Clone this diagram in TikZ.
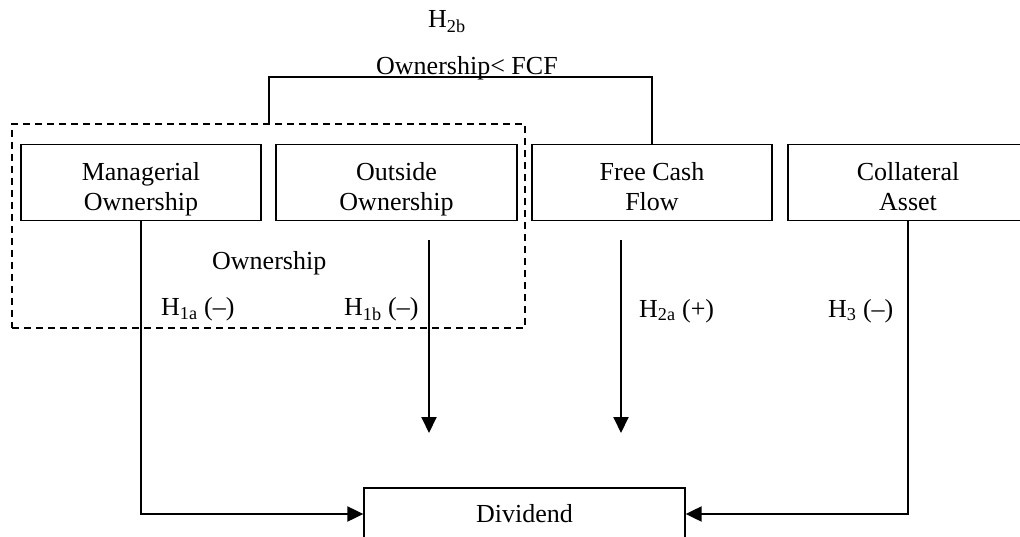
\documentclass[tikz,border=0pt]{standalone}
\usepackage{fontspec}
\setmainfont{Liberation Serif}
\usetikzlibrary{arrows.meta}
\begin{document}
\begin{tikzpicture}[x=1pt,y=-1pt,
  every node/.style={font=\fontsize{26}{30}\selectfont},
  box/.style={draw,line width=1.8pt,minimum height=76pt,inner sep=0pt},
  boxtxt/.style={align=center,yshift=-7.5pt,inner sep=0pt,font=\fontsize{26}{30}\selectfont},
  lbl/.style={anchor=base west,inner sep=0pt},
  conn/.style={line width=2pt},
  arr/.style={line width=2pt,-{Triangle[length=16pt,width=15pt]}}]
\useasboundingbox (0,0) rectangle (1020,537);
% ownership group (dashed)
\node[draw,dashed,line width=1.5pt,dash pattern=on 7pt off 5pt,minimum width=513pt,minimum height=204pt,inner sep=0pt] (own) at (268.5,226) {};
% boxes
\node[box,minimum width=240pt,label={[boxtxt]center:Managerial\strut\\Ownership\strut}] (mo) at (141,182.5) {};
\node[box,minimum width=241pt,label={[boxtxt]center:Outside\strut\\Ownership\strut}] (oo) at (396.5,182.5) {};
\node[box,minimum width=240pt,label={[boxtxt]center:Free Cash\strut\\Flow\strut}] (fcf) at (652,182.5) {};
\node[box,minimum width=240pt,label={[boxtxt]center:Collateral\strut\\Asset\strut}] (ca) at (908,182.5) {};
\node[draw,line width=1.3pt,minimum width=321pt,minimum height=52pt,inner sep=0pt] (div) at (524.5,514) {Dividend};
% labels
\node[lbl] (h2b) at (428,28) {H\textsubscript{2b}};
\node[lbl] (ofcf) at (376,75) {Ownership\textless{} FCF};
\node[lbl] (ownl) at (212,270) {Ownership};
\node[lbl] (h1a) at (161,316) {H\textsubscript{1a} (--)};
\node[lbl] (h1b) at (344,316) {H\textsubscript{1b} (--)};
\node[lbl] (h2a) at (639,317) {H\textsubscript{2a} (+)};
\node[lbl] (h3) at (828,317) {H\textsubscript{3} (--)};
% coordinates
\coordinate (top) at (460,77);
\coordinate (oa1) at (429,240);
\coordinate (oa2) at (429,433);
\coordinate (fa1) at (621,240);
\coordinate (fa2) at (621,433);
% connectors
\draw[conn] (own.north) -- (own.north |- top) -- (fcf.north |- top) -- (fcf.north);
\draw[arr] (mo.south) |- (div.west);
\draw[arr] (ca.south) |- (div.east);
\draw[arr] (oa1) -- (oa2);
\draw[arr] (fa1) -- (fa2);
\end{tikzpicture}
\end{document}
